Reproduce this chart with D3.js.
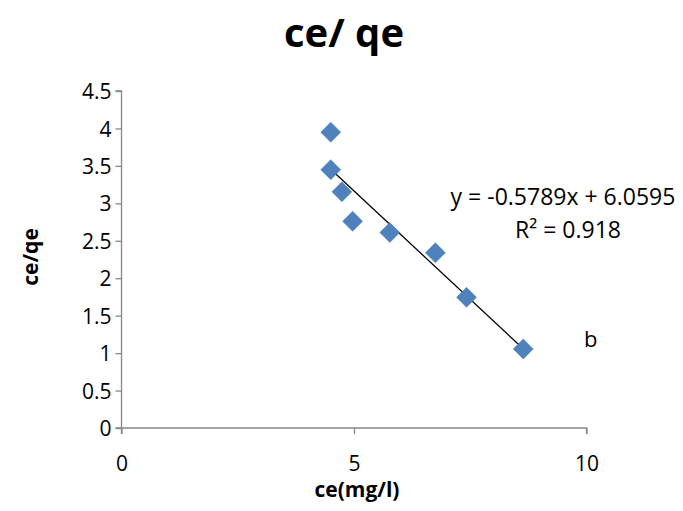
<!DOCTYPE html>
<html><head><meta charset="utf-8">
<script src="https://cdn.jsdelivr.net/npm/d3@7"></script>
<style>body{margin:0;background:#fff}text{font-family:"Open Sans","Liberation Sans",Arial,sans-serif}</style>
</head><body>
<svg id="c" width="683" height="511"></svg>
<script>
const ceValues = [4.50, 4.50, 4.74, 4.97, 5.77, 6.75, 7.42, 8.64];
const ceqeValues = [3.95, 3.45, 3.155, 2.76, 2.61, 2.34, 1.745, 1.055];
const xTicks = [0, 5, 10];
const yTicks = [0, 0.5, 1, 1.5, 2, 2.5, 3, 3.5, 4, 4.5];
const slope = -0.5789, intercept = 6.0595;
const eqLabel = "y = -0.5789x + 6.0595";
const r2Label = "R² = 0.918";
const titleText = "ce/ qe";
const xTitle = "ce(mg/l)";
const yTitle = "ce/qe";
const seriesLabel = "b";

const FONT = '"Open Sans", "Liberation Sans", Arial, sans-serif';
const svg = d3.select("#c");
const x = d3.scaleLinear().domain([0, 10]).range([121.5, 586.5]);
const y = d3.scaleLinear().domain([0, 4.5]).range([428, 91]);
const axisColor = "#868686";

const xAxis = svg.append("g").attr("transform", `translate(0,${y(0)})`)
  .call(d3.axisBottom(x).tickValues(xTicks).tickSize(6).tickPadding(22).tickFormat(d3.format("d")));
const yAxis = svg.append("g").attr("transform", `translate(${x(0)},0)`)
  .call(d3.axisLeft(y).tickValues(yTicks).tickSize(6).tickPadding(4).tickFormat(d => String(d)));
[xAxis, yAxis].forEach(g => {
  g.attr("font-size", null).attr("font-family", null);
  g.select(".domain").attr("stroke", axisColor).attr("stroke-width", 1.3);
  g.selectAll(".tick line").attr("stroke", axisColor).attr("stroke-width", 1.3);
  g.selectAll(".tick text").attr("fill", "#000").style("font-size", "21px").style("font-family", FONT);
});
yAxis.selectAll(".tick text").attr("dy", "0.36em");
yAxis.select(".domain").attr("d", `M-6,${y(4.5)}H0V${y(0)}H-6`);
xAxis.select(".domain").attr("d", `M${x(0)},6V0H${x(10)}V6`);

// trendline
const xmin = d3.min(ceValues), xmax = d3.max(ceValues);
svg.append("line")
  .attr("x1", x(xmin)).attr("y1", y(slope * xmin + intercept))
  .attr("x2", x(xmax)).attr("y2", y(slope * xmax + intercept))
  .attr("stroke", "#000").attr("stroke-width", 1.3);

// markers
svg.append("g").selectAll("path").data(ceValues.map((v, i) => [v, ceqeValues[i]]))
  .join("path")
  .attr("d", "M0,-10L10,0L0,10L-10,0Z")
  .attr("transform", d => `translate(${x(d[0])},${y(d[1])})`)
  .attr("fill", "#4F81BD").attr("stroke", "#4A7EBB").attr("stroke-width", 0.5);

// titles
svg.append("text").attr("x", 344).attr("y", 47).attr("text-anchor", "middle")
  .style("font-size", "40px").style("font-weight", "bold").text(titleText);
svg.append("text").attr("x", 357).attr("y", 497).attr("text-anchor", "middle")
  .style("font-size", "21px").style("font-weight", "bold").text(xTitle);
svg.append("text").attr("transform", "translate(38,257) rotate(-90)").attr("text-anchor", "middle")
  .style("font-size", "21px").style("font-weight", "bold").text(yTitle);

// equation
svg.append("text").attr("x", 563).attr("y", 205).attr("text-anchor", "middle")
  .style("font-size", "23px").text(eqLabel);
svg.append("text").attr("x", 568).attr("y", 238).attr("text-anchor", "middle")
  .style("font-size", "23px").text(r2Label);
svg.append("text").attr("x", 584).attr("y", 347)
  .style("font-size", "22px").text(seriesLabel);
</script>
</body></html>
